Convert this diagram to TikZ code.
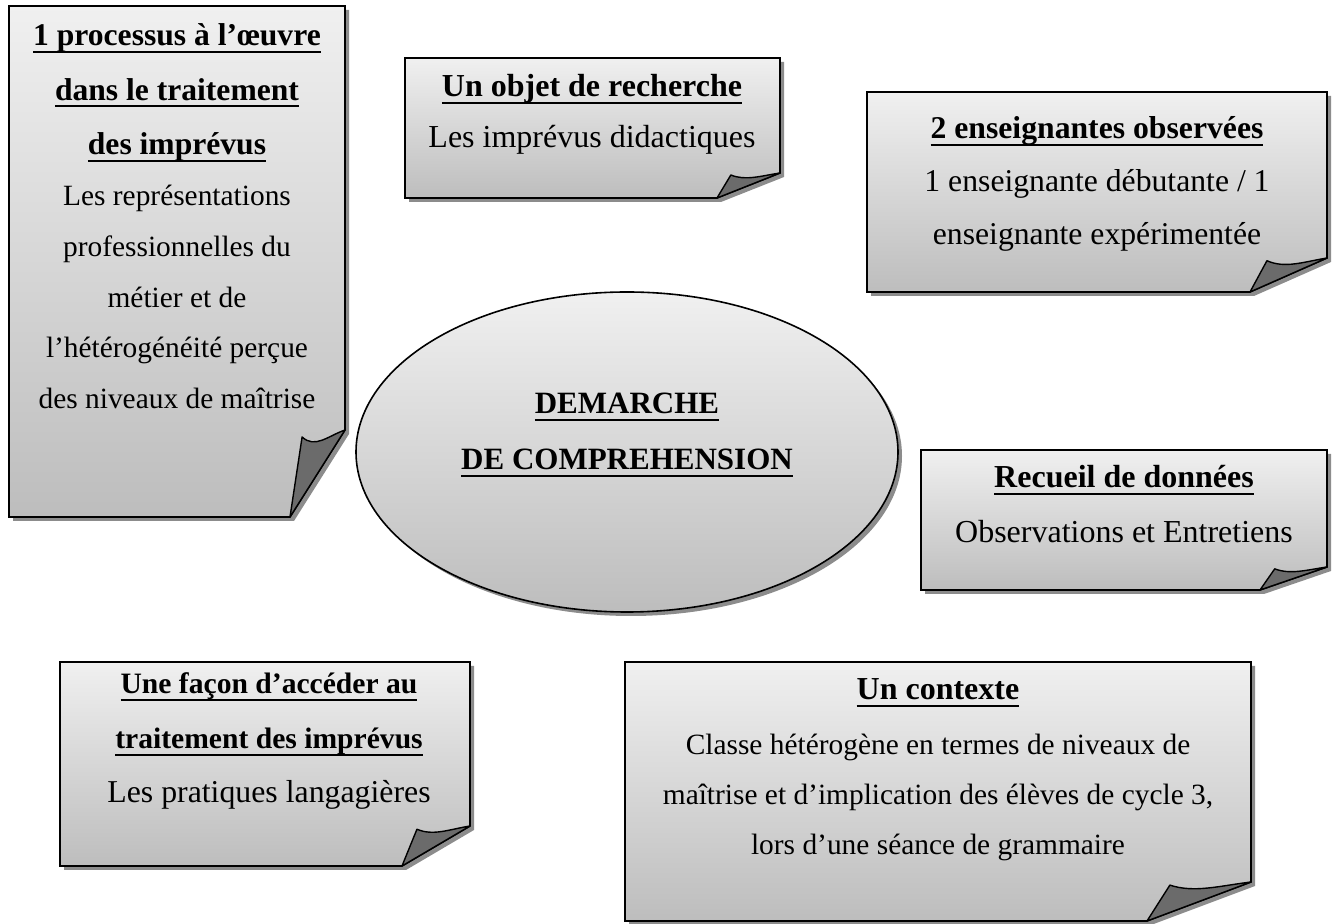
\documentclass[tikz,border=0pt]{standalone}
\usepackage{fontspec}
\setmainfont{Liberation Serif}
\usetikzlibrary{shapes.geometric}
\definecolor{boxtop}{HTML}{F0F0F0}
\definecolor{boxbot}{HTML}{BDBDBD}
\definecolor{flapc}{HTML}{6B6B6B}
\newcommand\ulx[1]{\setbox0\hbox{#1}\rlap{\rule[-3.5pt]{\wd0}{1.1pt}}\box0}
\tikzset{
  boxbody/.style={draw=black, line width=0.8pt, top color=boxtop, bottom color=boxbot},
  boxshadow/.style={fill=black!45},
  boxflap/.style={draw=black, line width=0.7pt, fill=flapc, line join=round},
  txt/.style={anchor=base, inner sep=0pt}
}
% #1 left, #2 top, #3 right, #4 bottom, #5 fold y on right edge, #6 fold x on bottom edge, #7 sag
\newcommand\foldbox[7]{%
  \pgfmathsetmacro\fbPx{#6+0.22*(#3-#6)}%
  \pgfmathsetmacro\fbPy{#5+0.08*(#4-#5)}%
  \pgfmathsetmacro\fbw{#3-\fbPx}%
  \fill[boxshadow] (#1+4,#2+4) -- (#3+4,#2+4) -- (#3+4,#5+4) -- (#6+4,#4+4) -- (#1+4,#4+4) -- cycle;
  \path[boxbody] (#1,#2) -- (#3,#2) -- (#3,#5) -- (#6,#4) -- (#1,#4) -- cycle;
  \path[boxflap] (#6,#4) -- (\fbPx,\fbPy) .. controls (\fbPx+0.3*\fbw,\fbPy+#7) and (#3-0.4*\fbw,#5+0.5*#7) .. (#3,#5) -- cycle;
}
\begin{document}
\begin{tikzpicture}[x=0.5pt,y=-0.5pt]
\fill[white] (0,0) rectangle (1335,924);
\useasboundingbox (0,0) rectangle (1335,924);

% ---- Box 1
\foldbox{9}{6}{345}{517}{430}{290}{12}
\node[txt] (t1) at (177,46) {\fontsize{14.7}{25.35}\selectfont
\begin{tabular}[t]{@{}c@{}}
{\fontsize{15.8}{25.35}\selectfont\bfseries\ulx{1 processus à l’œuvre}}\\[1.9pt]
{\fontsize{15.8}{25.35}\selectfont\bfseries\ulx{dans le traitement}}\\[1.9pt]
{\fontsize{15.8}{25.35}\selectfont\bfseries\ulx{des imprévus}}\\
Les représentations\\
professionnelles du\\
métier et de\\
l’hétérogénéité perçue\\
des niveaux de maîtrise
\end{tabular}};

% ---- Box 2
\foldbox{405}{58}{780}{198}{173}{717}{6}
\node[txt] (t2) at (592,97) {\fontsize{16}{25.5}\selectfont
\begin{tabular}[t]{@{}c@{}}
{\bfseries\ulx{Un objet de recherche}}\\
Les imprévus didactiques
\end{tabular}};

% ---- Box 3
\foldbox{867}{92}{1327}{292}{258}{1250}{8}
\node[txt] (t3) at (1097,139) {\fontsize{15.85}{26.3}\selectfont
\begin{tabular}[t]{@{}c@{}}
{\bfseries\ulx{2 enseignantes observées}}\\
1 enseignante débutante / 1\\
enseignante expérimentée
\end{tabular}};

% ---- Ellipse
\fill[boxshadow] (631,456) ellipse [x radius=135.5pt, y radius=80pt];
\node[ellipse, draw=black, line width=0.8pt, top color=boxtop, bottom color=boxbot,
      minimum width=271pt, minimum height=160pt, inner sep=0pt] (ell) at (627,452) {};
\node[txt] (tell) at (627,414) {\fontsize{15.5}{28}\selectfont
\begin{tabular}[t]{@{}c@{}}
{\bfseries\ulx{DEMARCHE}}\\
{\bfseries\ulx{DE COMPREHENSION}}
\end{tabular}};

% ---- Box 4
\foldbox{921}{450}{1327}{590}{567}{1260}{6}
\node[txt] (t4) at (1124,488) {\fontsize{16}{27.5}\selectfont
\begin{tabular}[t]{@{}c@{}}
{\bfseries\ulx{Recueil de données}}\\
Observations et Entretiens
\end{tabular}};

% ---- Box 5
\foldbox{60}{662}{470}{866}{826}{402}{7}
\node[txt] (t5) at (269,694) {\fontsize{15.9}{27}\selectfont
\begin{tabular}[t]{@{}c@{}}
{\fontsize{14.8}{27}\selectfont\bfseries\ulx{Une façon d’accéder au}}\\[0.5pt]
{\fontsize{14.8}{27}\selectfont\bfseries\ulx{traitement des imprévus}}\\
Les pratiques langagières
\end{tabular}};

% ---- Box 6
\foldbox{625}{662}{1251}{921}{882}{1147}{8}
\node[txt] (t6) at (938,700) {\fontsize{14.7}{25}\selectfont
\begin{tabular}[t]{@{}c@{}}
{\fontsize{16}{25}\selectfont\bfseries\ulx{Un contexte}}\\[2.5pt]
Classe hétérogène en termes de niveaux de\\
maîtrise et d’implication des élèves de cycle 3,\\
lors d’une séance de grammaire
\end{tabular}};
\end{tikzpicture}
\end{document}
